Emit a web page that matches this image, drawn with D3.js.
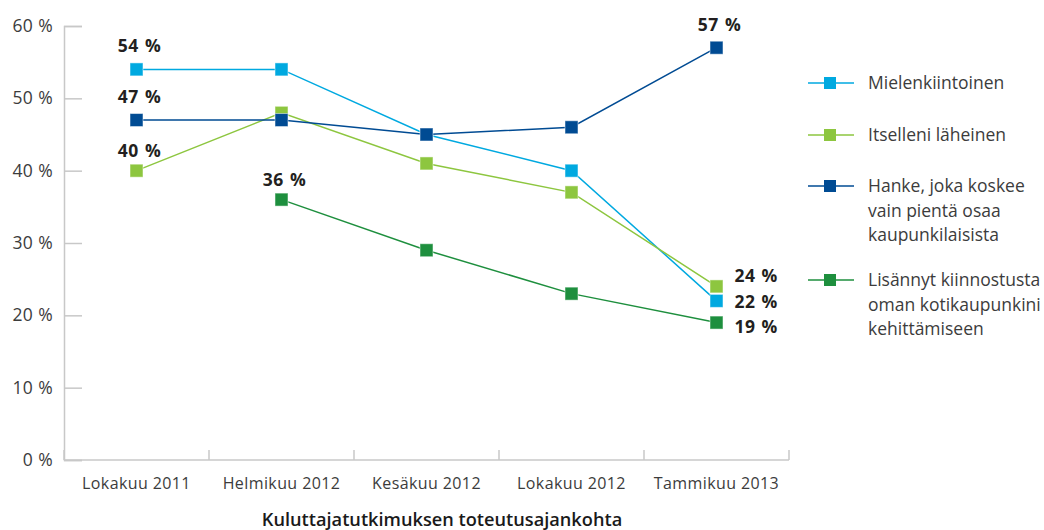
<!DOCTYPE html>
<html lang="fi">
<head>
<meta charset="UTF-8">
<title>Kuluttajatutkimus</title>
<script src="https://d3js.org/d3.v7.min.js"></script>
<style>
  body { margin: 0; background: #fff; }
  svg { font-family: "Open Sans", "Noto Sans", sans-serif; }
  .tick text { fill: #3c3c3c; }
</style>
</head>
<body>
<svg id="canvas" width="1044" height="530"></svg>
<script>
// data
const periods = ["Lokakuu 2011", "Helmikuu 2012", "Kesäkuu 2012", "Lokakuu 2012", "Tammikuu 2013"];
const mielenkiintoinen = [54, 54, 45, 40, 22];
const lahein = [40, 48, 41, 37, 24];
const hanke = [47, 47, 45, 46, 57];
const lisannyt = [null, 36, 29, 23, 19];
const yTicks = [0, 10, 20, 30, 40, 50, 60];

const series = [
  { name: ["Mielenkiintoinen"], values: mielenkiintoinen, color: "#00a9e0" },
  { name: ["Itselleni läheinen"], values: lahein, color: "#8dc63f" },
  { name: ["Hanke, joka koskee", "vain pientä osaa", "kaupunkilaisista"], values: hanke, color: "#004b93" },
  { name: ["Lisännyt kiinnostusta", "oman kotikaupunkini", "kehittämiseen"], values: lisannyt, color: "#1e8f3e" }
];

// value labels: [series index, period index, dx, dy, anchor]
const valueLabels = [
  [0, 0, 3, -17, "middle"],
  [2, 0, 3, -17, "middle"],
  [1, 0, 3, -14, "middle"],
  [3, 1, 3, -14, "middle"],
  [2, 4, 3, -17, "middle"],
  [1, 4, 18, -4, "start"],
  [0, 4, 18, 7, "start"],
  [3, 4, 18, 10, "start"]
];

const svg = d3.select("#canvas");
const mLeft = 64, mRight = 789, mTop = 26, mBottom = 460;

const x = d3.scaleBand().domain(periods).range([mLeft, mRight]);
const y = d3.scaleLinear().domain([0, 60]).range([mBottom, mTop]);
const cx = p => x(p) + x.bandwidth() / 2;

// y axis
const yAxis = svg.append("g").attr("transform", "translate(" + mLeft + ",0)")
  .call(d3.axisRight(y).tickValues(yTicks).tickSize(18).tickFormat(d => d + " %"));
yAxis.attr("font-family", null);
yAxis.select(".domain").attr("stroke", "#c8c8c8").attr("stroke-width", 1.5);
yAxis.selectAll(".tick line").attr("stroke", "#c8c8c8").attr("stroke-width", 1.5);
yAxis.selectAll(".tick text").attr("x", -11).attr("text-anchor", "end")
  .style("font-size", "17.5px").style("letter-spacing", "0.4px");

// x axis
const xg = svg.append("g").attr("transform", "translate(0," + mBottom + ")");
xg.append("line").attr("x1", mLeft).attr("x2", mRight).attr("stroke", "#c8c8c8").attr("stroke-width", 1.5);
xg.selectAll(".sep").data(periods.concat([null])).enter().append("line")
  .attr("x1", (d, i) => i < periods.length ? x(d) : mRight)
  .attr("x2", (d, i) => i < periods.length ? x(d) : mRight)
  .attr("y1", 0).attr("y2", -10).attr("stroke", "#c8c8c8").attr("stroke-width", 1.5);
xg.selectAll(".lab").data(periods).enter().append("text")
  .attr("x", d => cx(d)).attr("y", 29).attr("text-anchor", "middle")
  .attr("fill", "#3c3c3c").style("font-size", "16px").style("letter-spacing", "0.4px").text(d => d);

svg.append("text").attr("x", 442).attr("y", 526)
  .attr("text-anchor", "middle").attr("fill", "#1a1a1a").style("font-size", "18.2px")
  .style("font-weight", "600").text("Kuluttajatutkimuksen toteutusajankohta");

// lines and markers
const line = d3.line().defined(d => d.v != null).x(d => cx(d.p)).y(d => y(d.v));
series.forEach(s => {
  const pts = s.values.map((v, i) => ({ p: periods[i], v: v }));
  svg.append("path").datum(pts).attr("d", line).attr("fill", "none")
    .attr("stroke", s.color).attr("stroke-width", 1.5);
  svg.selectAll(null).data(pts.filter(d => d.v != null)).enter().append("rect")
    .attr("x", d => cx(d.p) - 6.5).attr("y", d => y(d.v) - 6.5)
    .attr("width", 13).attr("height", 13).attr("fill", s.color)
    .attr("stroke", "#ffffff").attr("stroke-opacity", 0.5).attr("stroke-width", 1);
});

// value labels
valueLabels.forEach(([si, pi, dx, dy, anchor]) => {
  const v = series[si].values[pi];
  svg.append("text").attr("x", cx(periods[pi]) + dx).attr("y", y(v) + dy)
    .attr("text-anchor", anchor).attr("fill", "#231f20")
    .style("font-size", "17.5px").style("font-weight", "700")
    .style("letter-spacing", "0.5px").style("word-spacing", "1px").text(v + " %");
});

// legend
const legendY = [83, 135, 186, 280];
series.forEach((s, i) => {
  const g = svg.append("g").attr("transform", "translate(808," + legendY[i] + ")");
  g.append("line").attr("x1", 0).attr("x2", 46).attr("stroke", s.color).attr("stroke-width", 1.5);
  g.append("rect").attr("x", 16).attr("y", -6).attr("width", 12).attr("height", 12).attr("fill", s.color);
  s.name.forEach((t, j) => {
    g.append("text").attr("x", 60).attr("y", j * 24.5 + 6).attr("fill", "#3c3c3c")
      .style("font-size", "17.5px").text(t);
  });
});
</script>
</body>
</html>
